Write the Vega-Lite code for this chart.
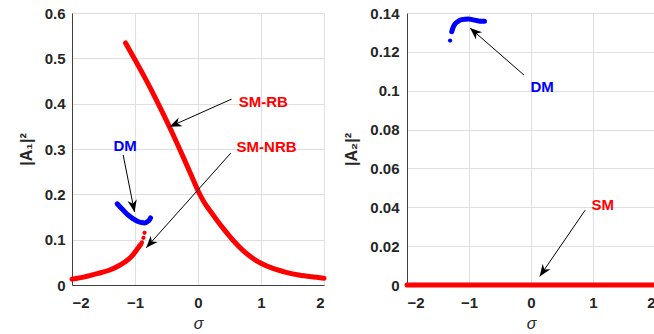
{
  "$schema": "https://vega.github.io/schema/vega-lite/v6.json",
  "background": "white",
  "padding": {"left": 17, "top": 5, "right": 0, "bottom": 0},
  "spacing": 16,
  "datasets": {
    "curves": [
      {"panel": "A1", "mode": "SM", "branch": "SM-RB", "sigma": -1.15, "amp": 0.534},
      {"panel": "A1", "mode": "SM", "branch": "SM-RB", "sigma": -1.0, "amp": 0.497},
      {"panel": "A1", "mode": "SM", "branch": "SM-RB", "sigma": -0.85, "amp": 0.459},
      {"panel": "A1", "mode": "SM", "branch": "SM-RB", "sigma": -0.7, "amp": 0.419},
      {"panel": "A1", "mode": "SM", "branch": "SM-RB", "sigma": -0.55, "amp": 0.377},
      {"panel": "A1", "mode": "SM", "branch": "SM-RB", "sigma": -0.4, "amp": 0.333},
      {"panel": "A1", "mode": "SM", "branch": "SM-RB", "sigma": -0.25, "amp": 0.287},
      {"panel": "A1", "mode": "SM", "branch": "SM-RB", "sigma": -0.1, "amp": 0.24},
      {"panel": "A1", "mode": "SM", "branch": "SM-RB", "sigma": 0.0, "amp": 0.208},
      {"panel": "A1", "mode": "SM", "branch": "SM-RB", "sigma": 0.1, "amp": 0.182},
      {"panel": "A1", "mode": "SM", "branch": "SM-RB", "sigma": 0.2, "amp": 0.162},
      {"panel": "A1", "mode": "SM", "branch": "SM-RB", "sigma": 0.3, "amp": 0.143},
      {"panel": "A1", "mode": "SM", "branch": "SM-RB", "sigma": 0.4, "amp": 0.125},
      {"panel": "A1", "mode": "SM", "branch": "SM-RB", "sigma": 0.5, "amp": 0.108},
      {"panel": "A1", "mode": "SM", "branch": "SM-RB", "sigma": 0.6, "amp": 0.092},
      {"panel": "A1", "mode": "SM", "branch": "SM-RB", "sigma": 0.7, "amp": 0.078},
      {"panel": "A1", "mode": "SM", "branch": "SM-RB", "sigma": 0.8, "amp": 0.066},
      {"panel": "A1", "mode": "SM", "branch": "SM-RB", "sigma": 0.9, "amp": 0.056},
      {"panel": "A1", "mode": "SM", "branch": "SM-RB", "sigma": 1.0, "amp": 0.048},
      {"panel": "A1", "mode": "SM", "branch": "SM-RB", "sigma": 1.2, "amp": 0.036},
      {"panel": "A1", "mode": "SM", "branch": "SM-RB", "sigma": 1.4, "amp": 0.028},
      {"panel": "A1", "mode": "SM", "branch": "SM-RB", "sigma": 1.6, "amp": 0.022},
      {"panel": "A1", "mode": "SM", "branch": "SM-RB", "sigma": 1.8, "amp": 0.018},
      {"panel": "A1", "mode": "SM", "branch": "SM-RB", "sigma": 2.0, "amp": 0.015},
      {"panel": "A1", "mode": "SM", "branch": "SM-NRB", "sigma": -2.0, "amp": 0.013},
      {"panel": "A1", "mode": "SM", "branch": "SM-NRB", "sigma": -1.8, "amp": 0.018},
      {"panel": "A1", "mode": "SM", "branch": "SM-NRB", "sigma": -1.6, "amp": 0.025},
      {"panel": "A1", "mode": "SM", "branch": "SM-NRB", "sigma": -1.4, "amp": 0.033},
      {"panel": "A1", "mode": "SM", "branch": "SM-NRB", "sigma": -1.25, "amp": 0.043},
      {"panel": "A1", "mode": "SM", "branch": "SM-NRB", "sigma": -1.1, "amp": 0.057},
      {"panel": "A1", "mode": "SM", "branch": "SM-NRB", "sigma": -1.03, "amp": 0.067},
      {"panel": "A1", "mode": "SM", "branch": "SM-NRB", "sigma": -0.98, "amp": 0.076},
      {"panel": "A1", "mode": "SM", "branch": "SM-NRB", "sigma": -0.94, "amp": 0.084},
      {"panel": "A1", "mode": "SM", "branch": "SM-NRB", "sigma": -0.91, "amp": 0.089},
      {"panel": "A1", "mode": "DM", "branch": "DM", "sigma": -1.283, "amp": 0.179},
      {"panel": "A1", "mode": "DM", "branch": "DM", "sigma": -1.2, "amp": 0.167},
      {"panel": "A1", "mode": "DM", "branch": "DM", "sigma": -1.117, "amp": 0.155},
      {"panel": "A1", "mode": "DM", "branch": "DM", "sigma": -1.03, "amp": 0.146},
      {"panel": "A1", "mode": "DM", "branch": "DM", "sigma": -0.954, "amp": 0.14},
      {"panel": "A1", "mode": "DM", "branch": "DM", "sigma": -0.9, "amp": 0.138},
      {"panel": "A1", "mode": "DM", "branch": "DM", "sigma": -0.849, "amp": 0.137},
      {"panel": "A1", "mode": "DM", "branch": "DM", "sigma": -0.8, "amp": 0.14},
      {"panel": "A1", "mode": "DM", "branch": "DM", "sigma": -0.769, "amp": 0.144},
      {"panel": "A1", "mode": "DM", "branch": "DM", "sigma": -0.753, "amp": 0.148},
      {"panel": "A2", "mode": "DM", "branch": "DM", "sigma": -1.278, "amp": 0.1304},
      {"panel": "A2", "mode": "DM", "branch": "DM", "sigma": -1.25, "amp": 0.133},
      {"panel": "A2", "mode": "DM", "branch": "DM", "sigma": -1.225, "amp": 0.1344},
      {"panel": "A2", "mode": "DM", "branch": "DM", "sigma": -1.17, "amp": 0.1358},
      {"panel": "A2", "mode": "DM", "branch": "DM", "sigma": -1.117, "amp": 0.1366},
      {"panel": "A2", "mode": "DM", "branch": "DM", "sigma": -1.01, "amp": 0.1369},
      {"panel": "A2", "mode": "DM", "branch": "DM", "sigma": -0.95, "amp": 0.1366},
      {"panel": "A2", "mode": "DM", "branch": "DM", "sigma": -0.876, "amp": 0.1361},
      {"panel": "A2", "mode": "DM", "branch": "DM", "sigma": -0.8, "amp": 0.1357},
      {"panel": "A2", "mode": "DM", "branch": "DM", "sigma": -0.75, "amp": 0.1357},
      {"panel": "A2", "mode": "SM", "branch": "SM", "sigma": -2.0, "amp": 0.0},
      {"panel": "A2", "mode": "SM", "branch": "SM", "sigma": 2.0, "amp": 0.0}
    ],
    "dots": [
      {"panel": "A1", "mode": "SM", "sigma": -0.89, "amp": 0.094},
      {"panel": "A1", "mode": "SM", "sigma": -0.866, "amp": 0.104},
      {"panel": "A1", "mode": "SM", "sigma": -0.849, "amp": 0.115},
      {"panel": "A2", "mode": "DM", "sigma": -1.305, "amp": 0.1258}
    ],
    "notes": [
      {"panel": "A1", "mode": "SM", "label": "SM-RB", "sx": 0.532, "sy": 0.41, "hx": -0.451, "hy": 0.349, "tx": 1.037, "ty": 0.404},
      {"panel": "A1", "mode": "SM", "label": "SM-NRB", "sx": 0.521, "sy": 0.291, "hx": -0.822, "hy": 0.082, "tx": 1.089, "ty": 0.305},
      {"panel": "A1", "mode": "DM", "label": "DM", "sx": -1.188, "sy": 0.287, "hx": -1.008, "hy": 0.161, "tx": -1.156, "ty": 0.307},
      {"panel": "A2", "mode": "DM", "label": "DM", "sx": -0.111, "sy": 0.108, "hx": -0.984, "hy": 0.1323, "tx": 0.178, "ty": 0.102},
      {"panel": "A2", "mode": "SM", "label": "SM", "sx": 0.873, "sy": 0.0385, "hx": 0.14, "hy": 0.0044, "tx": 1.157, "ty": 0.0414}
    ]
  },
  "config": {
    "view": {"stroke": "#e0e0e0"},
    "axis": {
      "labelFont": "Liberation Sans",
      "labelFontSize": 15,
      "labelFontWeight": "bold",
      "labelColor": "#262626",
      "titleFont": "Liberation Sans",
      "titleFontSize": 16,
      "titleColor": "#262626",
      "gridColor": "#e0e0e0",
      "gridWidth": 1,
      "domainColor": "#404040",
      "domainWidth": 1,
      "ticks": false,
      "tickSize": 0,
      "tickCount": 10
    },
    "text": {"font": "Liberation Sans"}
  },
  "hconcat": [
    {
      "width": 252,
      "height": 272,
      "layer": [
        {
          "data": {"name": "curves"},
          "transform": [{"filter": "datum.panel === 'A1'"}],
          "mark": {"type": "line", "strokeWidth": 5, "strokeCap": "round", "strokeJoin": "round", "interpolate": "monotone"},
          "encoding": {
            "x": {"field": "sigma", "type": "quantitative", "scale": {"domain": [-2, 2], "nice": false},
              "axis": {"values": [-2, -1, 0, 1, 2], "tickCount": 10, "title": "σ", "titleFontStyle": "italic", "titleFontWeight": "normal", "labelPadding": 10, "titlePadding": 5, "format": "~g"}},
            "y": {"field": "amp", "type": "quantitative", "scale": {"domain": [0, 0.6], "nice": false},
              "axis": {"values": [0, 0.1, 0.2, 0.3, 0.4, 0.5, 0.6], "tickCount": 10, "title": "|A₁|²", "titleFontWeight": "bold", "labelPadding": 7, "titlePadding": 10, "format": "~g"}},
            "color": {"field": "mode", "type": "nominal", "scale": {"domain": ["SM", "DM"], "range": ["#ff0000", "#0000ff"]}, "legend": null},
            "detail": {"field": "branch"},
            "order": {"field": "sigma"}
          }
        },
        {
          "data": {"name": "dots"},
          "transform": [{"filter": "datum.panel === 'A1'"}],
          "mark": {"type": "circle", "size": 18, "opacity": 1},
          "encoding": {
            "x": {"field": "sigma", "type": "quantitative"},
            "y": {"field": "amp", "type": "quantitative"},
            "color": {"field": "mode", "type": "nominal", "legend": null}
          }
        },
        {
          "data": {"name": "notes"},
          "transform": [{"filter": "datum.panel === 'A1'"}],
          "mark": {"type": "rule", "color": "black", "strokeWidth": 1},
          "encoding": {
            "x": {"field": "sx", "type": "quantitative"},
            "y": {"field": "sy", "type": "quantitative"},
            "x2": {"field": "hx"},
            "y2": {"field": "hy"}
          }
        },
        {
          "data": {"name": "notes"},
          "transform": [
            {"filter": "datum.panel === 'A1'"},
            {"calculate": "atan2((datum.hx - datum.sx) * 252 / 4, (datum.hy - datum.sy) * 272 / 0.6) * 180 / PI", "as": "ang"}
          ],
          "mark": {"type": "point", "shape": "M0,0L-0.9,2.3L0,1.6L0.9,2.3Z", "filled": true, "color": "black", "size": 110, "opacity": 1},
          "encoding": {
            "x": {"field": "hx", "type": "quantitative"},
            "y": {"field": "hy", "type": "quantitative"},
            "angle": {"field": "ang", "type": "quantitative", "scale": null}
          }
        },
        {
          "data": {"name": "notes"},
          "transform": [{"filter": "datum.panel === 'A1'"}],
          "mark": {"type": "text", "fontSize": 15, "fontWeight": "bold", "align": "center", "baseline": "middle"},
          "encoding": {
            "x": {"field": "tx", "type": "quantitative"},
            "y": {"field": "ty", "type": "quantitative"},
            "text": {"field": "label"},
            "color": {"field": "mode", "type": "nominal", "legend": null}
          }
        }
      ]
    },
    {
      "width": 248,
      "height": 272,
      "layer": [
        {
          "data": {"name": "curves"},
          "transform": [{"filter": "datum.panel === 'A2'"}],
          "mark": {"type": "line", "strokeWidth": 5, "strokeCap": "round", "strokeJoin": "round", "interpolate": "monotone"},
          "encoding": {
            "x": {"field": "sigma", "type": "quantitative", "scale": {"domain": [-2, 2], "nice": false},
              "axis": {"values": [-2, -1, 0, 1, 2], "tickCount": 10, "title": "σ", "titleFontStyle": "italic", "titleFontWeight": "normal", "labelPadding": 10, "titlePadding": 5, "format": "~g"}},
            "y": {"field": "amp", "type": "quantitative", "scale": {"domain": [0, 0.14], "nice": false},
              "axis": {"values": [0, 0.02, 0.04, 0.06, 0.08, 0.1, 0.12, 0.14], "tickCount": 10, "title": "|A₂|²", "titleFontWeight": "bold", "labelPadding": 8, "titlePadding": 10, "format": "~g"}},
            "color": {"field": "mode", "type": "nominal", "scale": {"domain": ["SM", "DM"], "range": ["#ff0000", "#0000ff"]}, "legend": null},
            "detail": {"field": "branch"},
            "order": {"field": "sigma"}
          }
        },
        {
          "data": {"name": "dots"},
          "transform": [{"filter": "datum.panel === 'A2'"}],
          "mark": {"type": "circle", "size": 18, "opacity": 1},
          "encoding": {
            "x": {"field": "sigma", "type": "quantitative"},
            "y": {"field": "amp", "type": "quantitative"},
            "color": {"field": "mode", "type": "nominal", "legend": null}
          }
        },
        {
          "data": {"name": "notes"},
          "transform": [{"filter": "datum.panel === 'A2'"}],
          "mark": {"type": "rule", "color": "black", "strokeWidth": 1},
          "encoding": {
            "x": {"field": "sx", "type": "quantitative"},
            "y": {"field": "sy", "type": "quantitative"},
            "x2": {"field": "hx"},
            "y2": {"field": "hy"}
          }
        },
        {
          "data": {"name": "notes"},
          "transform": [
            {"filter": "datum.panel === 'A2'"},
            {"calculate": "atan2((datum.hx - datum.sx) * 248 / 4, (datum.hy - datum.sy) * 272 / 0.14) * 180 / PI", "as": "ang"}
          ],
          "mark": {"type": "point", "shape": "M0,0L-0.9,2.3L0,1.6L0.9,2.3Z", "filled": true, "color": "black", "size": 110, "opacity": 1},
          "encoding": {
            "x": {"field": "hx", "type": "quantitative"},
            "y": {"field": "hy", "type": "quantitative"},
            "angle": {"field": "ang", "type": "quantitative", "scale": null}
          }
        },
        {
          "data": {"name": "notes"},
          "transform": [{"filter": "datum.panel === 'A2'"}],
          "mark": {"type": "text", "fontSize": 15, "fontWeight": "bold", "align": "center", "baseline": "middle"},
          "encoding": {
            "x": {"field": "tx", "type": "quantitative"},
            "y": {"field": "ty", "type": "quantitative"},
            "text": {"field": "label"},
            "color": {"field": "mode", "type": "nominal", "legend": null}
          }
        }
      ]
    }
  ]
}
